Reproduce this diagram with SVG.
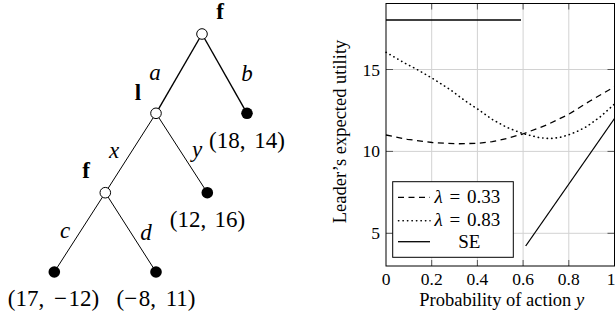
<svg xmlns="http://www.w3.org/2000/svg" width="616" height="322" viewBox="0 0 616 322">
<style>
text{font-family:"Liberation Serif","Times New Roman",serif;fill:#000}
.tree{font-size:23px}
.b{font-weight:bold}
.i{font-style:italic}
.tick{font-size:17.5px}
.edge{stroke:#000;fill:none}
.open{fill:#fff;stroke:#000;stroke-width:1}
.leaf{fill:#000}
.grid{stroke:#d2d2d2;stroke-width:1}
.tk{stroke:#555;stroke-width:1}
.curve{fill:none;stroke:#000;stroke-width:1.3;stroke-linejoin:round}
.dash{stroke-dasharray:6 4.5}
.dot{stroke-dasharray:0.3 4.2;stroke-linecap:round;stroke-width:1.6}
</style>
<rect width="616" height="322" fill="#fff"/>
<g id="connectors">
<line class="edge" x1="202" y1="34" x2="156" y2="113.3" stroke-width="1.4"/>
<line class="edge" x1="202" y1="34" x2="247" y2="113.3" stroke-width="1.4"/>
<line class="edge" x1="156" y1="113.3" x2="105.3" y2="192.7" stroke-width="1"/>
<line class="edge" x1="156" y1="113.3" x2="207.3" y2="192.7" stroke-width="1"/>
<line class="edge" x1="105.3" y1="192.7" x2="54.3" y2="272" stroke-width="1"/>
<line class="edge" x1="105.3" y1="192.7" x2="156" y2="272" stroke-width="1"/>
</g>
<g id="edge-labels" class="tree i" text-anchor="middle">
<text x="155" y="80">a</text>
<text x="247" y="81">b</text>
<text x="114" y="158">x</text>
<text x="197" y="157">y</text>
<text x="65" y="238">c</text>
<text x="146" y="240">d</text>
</g>
<g id="root">
<circle class="open" cx="202" cy="34" r="5.3"/>
<text class="tree b" x="220" y="19" text-anchor="middle">f</text>
</g>
<g id="leader">
<circle class="open" cx="156" cy="113.3" r="5.3"/>
<text class="tree b" x="138" y="100" text-anchor="middle">l</text>
</g>
<g id="follower2">
<circle class="open" cx="105.3" cy="192.7" r="5.3"/>
<text class="tree b" x="86" y="178" text-anchor="middle">f</text>
</g>
<g id="leaf-b">
<circle class="leaf" cx="247" cy="113.3" r="5.8"/>
<text class="tree" x="247" y="148" text-anchor="middle">(18,<tspan dx="3"> 14)</tspan></text>
</g>
<g id="leaf-y">
<circle class="leaf" cx="207.3" cy="192.7" r="5.8"/>
<text class="tree" x="207.5" y="227" text-anchor="middle">(12,<tspan dx="2.5"> 16)</tspan></text>
</g>
<g id="leaf-c">
<circle class="leaf" cx="54.3" cy="272" r="5.8"/>
<text class="tree" x="53.5" y="306" text-anchor="middle">(17,<tspan dx="4"> −</tspan><tspan dx="1.5">12)</tspan></text>
</g>
<g id="leaf-d">
<circle class="leaf" cx="156" cy="272" r="5.8"/>
<text class="tree" x="156" y="306" text-anchor="middle">(−<tspan dx="1.5">8,</tspan><tspan dx="4"> 11)</tspan></text>
</g>
<g id="chart">
<g id="grid">
<line class="grid" x1="431.7" y1="3.5" x2="431.7" y2="266"/>
<line class="grid" x1="477.4" y1="3.5" x2="477.4" y2="266"/>
<line class="grid" x1="523.1" y1="3.5" x2="523.1" y2="266"/>
<line class="grid" x1="568.8" y1="3.5" x2="568.8" y2="266"/>
<line class="grid" x1="386" y1="69.5" x2="614.5" y2="69.5"/>
<line class="grid" x1="386" y1="151.4" x2="614.5" y2="151.4"/>
<line class="grid" x1="386" y1="233.3" x2="614.5" y2="233.3"/>
</g>
<g id="ticks">
<path class="tk" d="M431.7 266v-6M477.4 266v-6M523.1 266v-6M568.8 266v-6M431.7 3.5v6M477.4 3.5v6M523.1 3.5v6M568.8 3.5v6M386 69.5h7M386 151.4h7M386 233.3h7M614.5 69.5h-7M614.5 151.4h-7M614.5 233.3h-7"/>
</g>
<g id="curves">
<polyline class="curve dash" points="386,135 407.3,139.3 432.3,142.5 457.3,143.8 477.3,143.3 492.3,141.7 507,138.4 522.7,134 546.7,125 568.7,114.3 590,101 614.5,86.8"/>
<polyline class="curve dot" points="386,52.3 395,57.5 404,62.7 416.7,69.3 432.3,78.3 450.7,90 464,100 479,110 492.3,119.5 506.7,127.3 522.7,133.6 540,137.8 550,138.6 559,137.6 568.7,134.8 577.7,131.2 586.7,126.6 600,117 614.5,104"/>
<line class="curve" x1="386" y1="20" x2="521" y2="20"/>
<line class="curve" x1="525.7" y1="246" x2="614.5" y2="118.5"/>
</g>
<rect x="386" y="3.5" width="228.5" height="262.5" fill="none" stroke="#000" stroke-width="1"/>
<g id="legend">
<rect x="392.7" y="181.7" width="120.6" height="75.6" fill="#fff" stroke="#000" stroke-width="1"/>
<line class="curve dash" x1="398" y1="197.3" x2="430" y2="197.3"/>
<line class="curve dot" x1="398.5" y1="220.7" x2="430" y2="220.7"/>
<line class="curve" x1="398" y1="241.7" x2="430" y2="241.7"/>
<text font-size="19" x="434.5" y="202.5"><tspan class="i">λ</tspan><tspan dx="2"> =</tspan><tspan dx="2"> 0.33</tspan></text>
<text font-size="19" x="434.5" y="225.5"><tspan class="i">λ</tspan><tspan dx="2"> =</tspan><tspan dx="2"> 0.83</tspan></text>
<text font-size="19" x="469.3" y="247.5" text-anchor="middle">SE</text>
</g>
<g id="tick-labels" class="tick">
<text x="386" y="284.5" text-anchor="middle">0</text>
<text x="431.7" y="284.5" text-anchor="middle">0.2</text>
<text x="477.4" y="284.5" text-anchor="middle">0.4</text>
<text x="523.1" y="284.5" text-anchor="middle">0.6</text>
<text x="568.8" y="284.5" text-anchor="middle">0.8</text>
<text x="615.5" y="284.5" text-anchor="end">1</text>
<text x="380" y="75.5" text-anchor="end">15</text>
<text x="380" y="157.4" text-anchor="end">10</text>
<text x="380" y="239.3" text-anchor="end">5</text>
</g>
<text font-size="18.5" x="501.7" y="306" text-anchor="middle">Probability of action <tspan class="i">y</tspan></text>
<text font-size="18.5" transform="translate(345.5,131.5) rotate(-90)" text-anchor="middle">Leader’s expected utility</text>
</g>
</svg>
